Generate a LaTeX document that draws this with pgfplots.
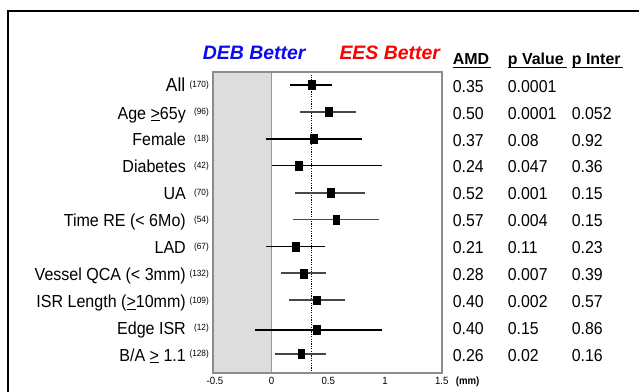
\documentclass[border=0pt]{standalone}
\usepackage{fontspec}
\setmainfont[FakeStretch=0.92]{Liberation Sans}
\newfontfamily\plainf{Liberation Sans}
\usepackage{pgfplots}
\pgfplotsset{compat=1.18}
\usepackage{pgfplotstable}
\definecolor{debblue}{RGB}{10,10,240}
\definecolor{eesred}{RGB}{250,0,0}
\definecolor{shadegray}{RGB}{221,221,221}
\definecolor{frameg}{RGB}{140,140,140}

% black whiskers
\pgfplotstableread{
name y x em ep
All 85.0 0.35 0.19 0.185
Female 138.8 0.37 0.42 0.43
Diabetes 165.7 0.24 0.24 0.73
LAD 246.4 0.21 0.26 0.26
Edge 330.0 0.40 0.55 0.57
}\dataA
% grey whiskers
\pgfplotstableread{
name y x em ep
Age 111.9 0.50 0.25 0.24
UA 192.6 0.52 0.31 0.30
TimeRE 219.5 0.57 0.38 0.38
Vessel 273.3 0.28 0.20 0.20
ISRlen 300.2 0.40 0.25 0.25
BA 354.0 0.26 0.23 0.22
}\dataB

\begin{document}
\begin{tikzpicture}
\useasboundingbox (0,0) rectangle (639bp,392bp);
\begin{axis}[
  at={(212.7bp,18.7bp)}, anchor=south west,
  scale only axis, width=229bp, height=301bp,
  xmin=-0.52, xmax=1.5, ymin=72.3, ymax=373.3, y dir=reverse,
  axis on top,
  axis line style={draw=frameg, line width=2bp},
  ytick=\empty,
  xtick={-0.5,0,0.5,1,1.5},
  xticklabels={-0.5,0,0.5,1,1.5},
  major tick length=0pt,
  xticklabel style={font=\fontsize{10.5}{12}\selectfont, yshift=-0.5bp},
  /pgf/number format/assume math mode=true,
  clip=false,
]
\fill[shadegray] (axis cs:-0.52,72.3) rectangle (axis cs:0,373.3);
\draw[black!40, line width=1bp] (axis cs:0,72.3) -- (axis cs:0,373.3);
\draw[black, line width=0.7bp, dash pattern=on 1.2bp off 1.2bp] (axis cs:0.35,72.3) -- (axis cs:0.35,373.3);
\addplot[draw=none, mark=none,
  error bars/.cd, x dir=both, x explicit, error mark=none,
  error bar style={line width=1.5bp, black}]
  table[x=x, y=y, x error minus=em, x error plus=ep] {\dataA};
\addplot[draw=none, mark=none,
  error bars/.cd, x dir=both, x explicit, error mark=none,
  error bar style={line width=1.9bp, black!72}]
  table[x=x, y=y, x error minus=em, x error plus=ep] {\dataB};
\addplot[only marks, mark=square*, mark size=3.4bp, mark options={fill=black, draw=none, yscale=1.3}]
  table[x=x, y=y] {\dataA};
\addplot[only marks, mark=square*, mark size=3.4bp, mark options={fill=black, draw=none, yscale=1.3}]
  table[x=x, y=y] {\dataB};
\end{axis}

\begin{scope}[x=1bp, y=-1bp, shift={(0,392bp)}]
% outer frame
\draw[line width=2bp, black] (8,400) -- (8,11) -- (660,11);
% headers
\node[anchor=base west, inner sep=0, text=debblue, font=\plainf\fontsize{19.5}{22}\selectfont\bfseries\itshape] at (202.7,60) {DEB Better};
\node[anchor=base west, inner sep=0, text=eesred, font=\plainf\fontsize{19.5}{22}\selectfont\bfseries\itshape] at (339.3,60) {EES Better};
\node[anchor=base west, inner sep=0, font=\plainf\fontsize{16}{18}\selectfont\bfseries] at (452.7,65) {AMD};
\node[anchor=base west, inner sep=0, font=\plainf\fontsize{16}{18}\selectfont\bfseries] at (507.7,65) {p Value};
\node[anchor=base west, inner sep=0, font=\plainf\fontsize{16}{18}\selectfont\bfseries] at (571.7,65) {p Inter};
\draw[line width=1.3bp] (452.7,67.3) -- (491,67.3);
\draw[line width=1.3bp] (507.7,67.3) -- (566.7,67.3);
\draw[line width=1.3bp] (571.7,67.3) -- (622.5,67.3);
% (mm)
\node[anchor=base west, inner sep=0, font=\fontsize{10.5}{12}\selectfont\bfseries] at (455.7,385) {(mm)};
% row labels
\def\lab#1#2#3{%
  \node[anchor=base east, inner sep=0, font=\fontsize{17.5}{19}\selectfont] at (186,#1+7.2) {#2};
  \node[anchor=base east, inner sep=0, font=\fontsize{9}{10}\selectfont] at (209,#1+3.0) {#3};}
\node[anchor=base east, inner sep=0, font=\fontsize{19}{21}\selectfont] at (185.5,91.7) {All};
\node[anchor=base east, inner sep=0, font=\fontsize{9}{10}\selectfont] at (209,88.0) {(170)};
\lab{111.9}{Age \underline{>}65y}{(96)}
\lab{138.8}{Female}{(18)}
\lab{165.7}{Diabetes}{(42)}
\lab{192.6}{UA}{(70)}
\lab{219.5}{Time RE (< 6Mo)}{(54)}
\lab{246.4}{LAD}{(67)}
\lab{273.3}{Vessel QCA (< 3mm)}{(132)}
\lab{300.2}{ISR Length (\underline{>}10mm)}{(109)}
\lab{327.1}{Edge ISR}{(12)}
\lab{354.0}{B/A \underline{>} 1.1}{(128)}
% values
\def\val#1#2#3#4{%
  \node[anchor=base west, inner sep=0, font=\fontsize{17.3}{19}\selectfont] at (452.7,#1+7.3) {#2};
  \node[anchor=base west, inner sep=0, font=\fontsize{17.3}{19}\selectfont] at (507.7,#1+7.3) {#3};
  \node[anchor=base west, inner sep=0, font=\fontsize{17.3}{19}\selectfont] at (571.7,#1+7.3) {#4};}
\val{85.0}{0.35}{0.0001}{}
\val{111.9}{0.50}{0.0001}{0.052}
\val{138.8}{0.37}{0.08}{0.92}
\val{165.7}{0.24}{0.047}{0.36}
\val{192.6}{0.52}{0.001}{0.15}
\val{219.5}{0.57}{0.004}{0.15}
\val{246.4}{0.21}{0.11}{0.23}
\val{273.3}{0.28}{0.007}{0.39}
\val{300.2}{0.40}{0.002}{0.57}
\val{327.1}{0.40}{0.15}{0.86}
\val{354.0}{0.26}{0.02}{0.16}
\end{scope}
\end{tikzpicture}
\end{document}
